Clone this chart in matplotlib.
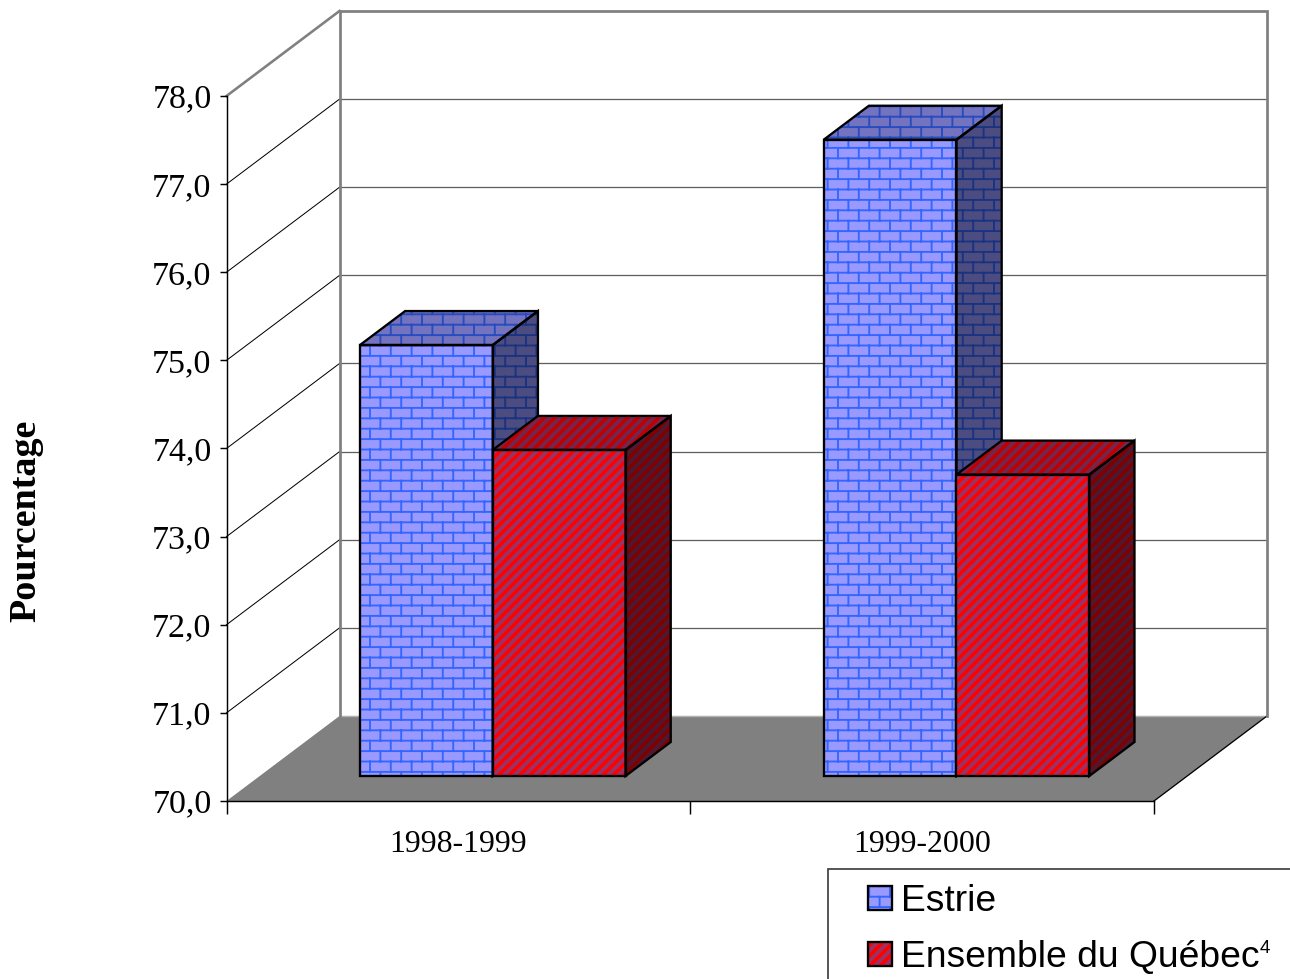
import matplotlib
matplotlib.use("Agg")
import numpy as np
import matplotlib.pyplot as plt
import matplotlib.hatch as mhatch
from matplotlib.path import Path
from matplotlib.patches import Polygon, Rectangle

categories = ["1998-1999", "1999-2000"]
estrie = [74.89, 77.22]
quebec = [73.70, 73.42]
y_ticks = [70, 71, 72, 73, 74, 75, 76, 77, 78]
series_names = ["Estrie", "Ensemble du Québec"]
footnote_mark = "4"
y_label = "Pourcentage"

W, H, DPI = 1290, 979, 104

# ---- custom fill patterns (brick and diagonal stripes) ----
class BrickHatch(mhatch.HatchPatternBase):
    ROWS, COLS = 10, 5
    SHIFT_X, SHIFT_Y = 6 / DPI, 0.1 - 2.3 / DPI
    def __init__(self, hatch, density):
        self.active = '+' in hatch
        self.segs = []
        if self.active:
            rows, cols = self.ROWS, self.COLS
            for r in range(-1, rows + 1):
                y = r / rows + self.SHIFT_Y
                self.segs.append(((0, y), (1, y)))
                for c in range(-1, cols + 2):
                    x = (c + (r % 2) / 2) / cols + self.SHIFT_X
                    self.segs.append(((x, y), (x, y + 1 / rows)))
        self.num_vertices = len(self.segs) * 2
    def set_vertices_and_codes(self, vertices, codes):
        for i, (a, b) in enumerate(self.segs):
            vertices[2 * i] = a
            vertices[2 * i + 1] = b
            codes[2 * i] = Path.MOVETO
            codes[2 * i + 1] = Path.LINETO

class StripeHatch(mhatch.HatchPatternBase):
    def __init__(self, hatch, density):
        self.active = '/' in hatch
        self.n = 20
        self.num_vertices = (self.n + 1) * 2 if self.active else 0
    def set_vertices_and_codes(self, vertices, codes):
        steps = np.linspace(-0.5, 0.5, self.n + 1)
        vertices[0::2, 0] = 0.0 + steps
        vertices[0::2, 1] = 0.0 - steps
        vertices[1::2, 0] = 1.0 + steps
        vertices[1::2, 1] = 1.0 - steps
        codes[0::2] = Path.MOVETO
        codes[1::2] = Path.LINETO

mhatch._hatch_types[:] = [BrickHatch, StripeHatch]

class Face(Polygon):
    def __init__(self, *a, hatch_lw=1.0, **k):
        with plt.rc_context({'hatch.linewidth': hatch_lw}):
            super().__init__(*a, **k)
        self._hlw = hatch_lw
    def draw(self, renderer):
        self._hatch_linewidth = self._hlw
        with plt.rc_context({'hatch.linewidth': self._hlw}):
            super().draw(renderer)

BRICK = dict(hatch='+', hatch_lw=1.3)
STRIPE = dict(hatch='/', hatch_lw=2.6)
STYLE_E = dict(front=('#9999FF', '#3366FF'), top=('#7373BF', '#264CBF'), side=('#4C4C80', '#193380'))
STYLE_Q = dict(front=('#FF0000', '#993366'), top=('#BF0000', '#732650'), side=('#800000', '#4C1933'))

# ---- figure and axes: the front plane of the 3-D box ----
fig = plt.figure(figsize=(W / DPI + 1e-4, H / DPI + 1e-4), dpi=DPI)
LEFT, RIGHT, TOP, BOTTOM = 226.5, 1154, 96, 801
ax = fig.add_axes([LEFT / W, 1 - BOTTOM / H, (RIGHT - LEFT) / W, (BOTTOM - TOP) / H])
ax.set_xlim(0, len(categories))
ax.set_ylim(y_ticks[0], y_ticks[-1])
ax.patch.set_visible(False)

px_x = len(categories) / (RIGHT - LEFT)
px_y = (y_ticks[-1] - y_ticks[0]) / (BOTTOM - TOP)
DX, DY = 113 * px_x, 85 * px_y      # full depth of the box


def proj(x, y, d):
    return (x + d * DX, y + d * DY)


y0, y1 = y_ticks[0], y_ticks[-1]
x0, x1 = 0, len(categories)
GRAY = '#808080'
# floor
ax.add_patch(Polygon([proj(x0, y0, 0), proj(x1, y0, 0), proj(x1, y0, 1), proj(x0, y0, 1)],
                     fc=GRAY, ec='none', clip_on=False, zorder=1))
ax.plot(*zip(proj(x1, y0, 0), proj(x1, y0, 1)), color='black', lw=0.9, clip_on=False, zorder=1.2)
# gridlines on the back and left walls
for v in y_ticks[1:-1]:
    ax.plot(*zip(proj(x0, v, 1), proj(x1, v, 1)), color='#606060', lw=0.9, clip_on=False, zorder=1.1)
    ax.plot(*zip(proj(x0, v, 0), proj(x0, v, 1)), color='black', lw=0.7, clip_on=False, zorder=1.1)
# wall outlines
ax.plot(*zip(proj(x0, y0, 1), proj(x0, y1, 1), proj(x1, y1, 1), proj(x1, y0, 1)),
        color=GRAY, lw=1.9, clip_on=False, zorder=1.3, solid_joinstyle='miter')
ax.plot(*zip(proj(x0, y0, 1), proj(x1, y0, 1)), color='#b0b0b0', lw=1.0, clip_on=False, zorder=1.05)
ax.plot(*zip(proj(x0, y1, 0), proj(x0, y1, 1)), color=GRAY, lw=1.8, clip_on=False, zorder=1.3)

# ---- bars ----
GAP = 100.2 / 463.75
BAR_W = 132.8 / 463.75
D0, D1 = 25 / 85, 59 / 85


def bar3d(xl, val, style, pat, z):
    xr = xl + BAR_W
    faces = {
        'side': [proj(xr, y0, D0), proj(xr, val, D0), proj(xr, val, D1), proj(xr, y0, D1)],
        'top': [proj(xl, val, D0), proj(xr, val, D0), proj(xr, val, D1), proj(xl, val, D1)],
        'front': [proj(xl, y0, D0), proj(xr, y0, D0), proj(xr, val, D0), proj(xl, val, D0)],
    }
    for name, pts in faces.items():
        fc, hc = style[name]
        ax.add_patch(Face(pts, fc=fc, ec=hc, lw=0, clip_on=False, zorder=z, **pat))
        ax.add_patch(Polygon(pts, fill=False, ec='black', lw=1.6, clip_on=False, zorder=z + 0.01,
                             joinstyle='miter'))


for i in range(len(categories)):
    bar3d(i + GAP, estrie[i], STYLE_E, BRICK, 2 + i)
    bar3d(i + GAP + BAR_W, quebec[i], STYLE_Q, STRIPE, 2.1 + i)

# ---- axes decoration ----
SERIF = 'Liberation Serif'
for s in ('top', 'right'):
    ax.spines[s].set_visible(False)
for s in ('left', 'bottom'):
    ax.spines[s].set_linewidth(1.0)
    ax.spines[s].set_zorder(1.4)
ax.set_yticks(y_ticks)
ax.set_yticklabels([f"{v:.1f}".replace('.', ',') for v in y_ticks], fontfamily=SERIF, fontsize=23.5)
ax.tick_params(axis='y', length=4.8, width=1.0, pad=5.5)
ax.set_xticks(np.arange(len(categories) + 1))
ax.set_xticklabels([])
ax.tick_params(axis='x', which='major', length=9, width=1.0)
ax.set_xticks(np.arange(len(categories)) + 0.5, minor=True)
ax.set_xticklabels(categories, minor=True, fontfamily=SERIF, fontsize=22.1)
ax.tick_params(axis='x', which='minor', length=0, pad=20)
fig.text(25.5 / W, 1 - 521 / H, y_label, rotation=90, ha='center', va='center',
         fontfamily=SERIF, fontweight='bold', fontsize=26.3)


# ---- legend (runs off the edge of the picture) ----
def fx(p):
    return p / W


def fy(p):
    return 1 - p / H


fig.add_artist(Rectangle((fx(828), fy(1000)), fx(1400) - fx(828), fy(869) - fy(1000),
                         transform=fig.transFigure, fc='white', ec='#404040', lw=1.2))
SANS = 'Liberation Sans'
for name, style, pat, cy in zip(series_names, (STYLE_E, STYLE_Q), (BRICK, STRIPE), (898.3, 954.2)):
    fc, hc = style['front']
    pts = [(fx(868), fy(cy + 12)), (fx(892), fy(cy + 12)), (fx(892), fy(cy - 12)), (fx(868), fy(cy - 12))]
    fig.add_artist(Face(pts, transform=fig.transFigure, fc=fc, ec=hc, lw=0, **pat))
    fig.add_artist(Polygon(pts, transform=fig.transFigure, fill=False, ec='black', lw=1.6))
    fig.text(fx(901), fy(cy + 12.6), name, ha='left', va='baseline', fontfamily=SANS, fontsize=25.8, color='black')
fig.text(fx(1259.5), fy(953), footnote_mark, ha='left', va='baseline', fontfamily=SANS, fontsize=13, color='black')

fig.savefig('out.png', dpi=DPI)
